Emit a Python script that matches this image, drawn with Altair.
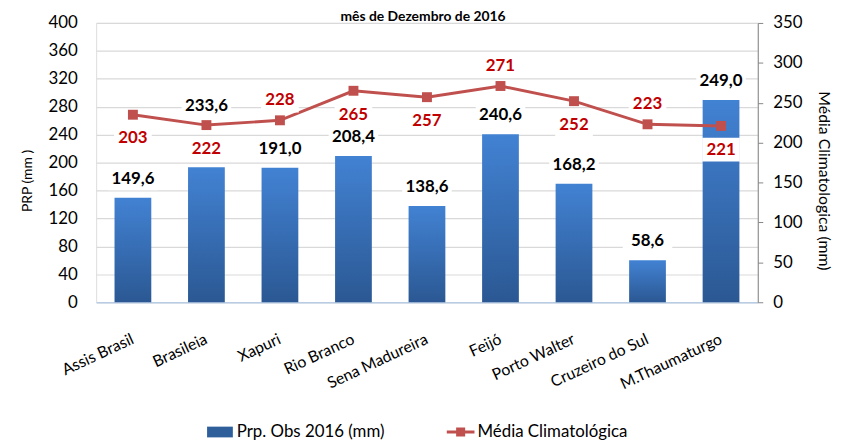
import altair as alt
import pandas as pd

# ---------------- data ----------------
title_text = "mês de Dezembro  de  2016"
categories = ["Assis Brasil", "Brasileia", "Xapuri", "Rio Branco", "Sena Madureira",
              "Feijó", "Porto Walter", "Cruzeiro do Sul", "M.Thaumaturgo"]
# bar heights as drawn (left axis, mm)
obs_bar_values = [149.6, 193.5, 192.5, 209.5, 138.0, 240.7, 169.8, 60.0, 289.8]
# bar data labels as printed
obs_labels = [149.6, 233.6, 191.0, 208.4, 138.6, 240.6, 168.2, 58.6, 249.0]
# climatological mean as drawn (right axis, mm)
clim_values = [235, 222, 228, 265, 257, 271, 252, 223, 221]
# climatological labels as printed
clim_labels = [203, 222, 228, 265, 257, 271, 252, 223, 221]

left_ticks = list(range(0, 401, 40))
right_ticks = list(range(0, 351, 50))

# label placement groups
clim_labels_above = ["Xapuri", "Feijó", "Cruzeiro do Sul"]
obs_label_over_line = ["Brasileia"]

series_bar = "Prp. Obs 2016 (mm)"
series_line = "Média Climatológica"

df = pd.DataFrame({
    "cat": categories,
    "obs": obs_bar_values,
    "obs_txt": [f"{v:.1f}".replace(".", ",") for v in obs_labels],
    "clim": clim_values,
    "clim_txt": [str(v) for v in clim_labels],
})
df["clim_above"] = df["cat"].isin(clim_labels_above)
df["obs_over_line"] = df["cat"].isin(obs_label_over_line)

FONT = "Lato"
BAR_TOP = "#4282d3"
BAR_BOTTOM = "#2b5893"
RED = "#c0504d"
LABEL_RED = "#c00000"

x_enc = alt.X(
    "cat:N", sort=categories,
    scale=alt.Scale(paddingInner=0.5, paddingOuter=0.25),
    axis=alt.Axis(title=None, labelAngle=-25, labelAlign="right", labelBaseline="middle",
                  labelPadding=36, labelFont=FONT, labelFontSize=16, labelColor="black",
                  ticks=False, domain=True, domainColor="#b8cce4", domainWidth=1.5,
                  grid=False, labelOverlap=False),
)

y_left_scale = alt.Scale(domain=[0, 400], nice=False)
y_right_scale = alt.Scale(domain=[0, 350], nice=False)

left_axis = alt.Axis(values=left_ticks, grid=True, gridColor="#d9d9d9", gridWidth=1.2,
                     domain=False, ticks=False, labelFont=FONT, labelFontSize=17,
                     labelColor="black", labelPadding=19, labelOverlap=False,
                     title="PRP (mm )", titleFont=FONT, titleFontSize=14,
                     titleFontWeight="normal", titleColor="black",
                     titlePadding=14, titleY=159)

base = alt.Chart(df)

bars = base.mark_bar(
    color=alt.Gradient(
        gradient="linear",
        stops=[alt.GradientStop(color=BAR_TOP, offset=0),
               alt.GradientStop(color=BAR_BOTTOM, offset=1)],
        x1=0, x2=0, y1=0, y2=1,
    )
).encode(
    x=x_enc,
    y=alt.Y("obs:Q", scale=y_left_scale, axis=left_axis),
)

obs_lab_base = base.transform_calculate(
    lab_y="datum.obs_over_line ? datum.clim * 400 / 350 : datum.obs"
)
obs_boxes = obs_lab_base.mark_point(
    shape="M-2.5,-1.15H2.5V1.15H-2.5Z", size=400, filled=True, color="white",
    opacity=1, yOffset=-19,
).encode(x=alt.X("cat:N", sort=categories),
         y=alt.Y("lab_y:Q", scale=y_left_scale, axis=left_axis))
obs_text = obs_lab_base.mark_text(
    font=FONT, fontSize=17, fontWeight="bold", color="black", dy=-19, baseline="middle"
).encode(x=alt.X("cat:N", sort=categories),
         y=alt.Y("lab_y:Q", scale=y_left_scale, axis=left_axis),
         text="obs_txt:N")

# chart title drawn as a text mark just above the plot area
title_mark = alt.Chart(pd.DataFrame({"t": [title_text]})).mark_text(
    font=FONT, fontSize=14, fontWeight="bold", color="black",
    baseline="alphabetic", align="center",
).encode(x=alt.value(330), y=alt.value(-1.5), text="t:N")

left = alt.layer(bars, obs_boxes, obs_text, title_mark)

right_axis = alt.Axis(orient="right", values=right_ticks, grid=False,
                      domain=True, domainColor="#868686", ticks=True,
                      tickColor="#868686", tickSize=5, labelFont=FONT,
                      labelFontSize=17, labelColor="black", labelPadding=10,
                      labelOverlap=False,
                      title="Média Climatologica (mm)", titleAngle=90,
                      titleFont=FONT, titleFontSize=16, titleFontWeight="normal",
                      titleColor="black", titlePadding=14, titleY=159)
y_right = alt.Y("clim:Q", scale=y_right_scale, axis=right_axis)

line = base.mark_line(color=RED, strokeWidth=3).encode(
    x=alt.X("cat:N", sort=categories), y=y_right)
points = base.mark_point(shape="square", filled=True, color=RED, opacity=1, size=100).encode(
    x=alt.X("cat:N", sort=categories), y=y_right)

above = base.transform_filter("datum.clim_above")
below = base.transform_filter("!datum.clim_above")

box_shape = "M-1.9,-1.2H1.9V1.2H-1.9Z"
clim_box_above = above.mark_point(shape=box_shape, size=400, filled=True, color="white",
                                  opacity=1, yOffset=-20).encode(
    x=alt.X("cat:N", sort=categories), y=y_right)
clim_box_below = below.mark_point(shape=box_shape, size=400, filled=True, color="white",
                                  opacity=1, yOffset=24).encode(
    x=alt.X("cat:N", sort=categories), y=y_right)
clim_txt_above = above.mark_text(font=FONT, fontSize=17, fontWeight="bold", color=LABEL_RED,
                                 dy=-20, baseline="middle").encode(
    x=alt.X("cat:N", sort=categories), y=y_right, text="clim_txt:N")
clim_txt_below = below.mark_text(font=FONT, fontSize=17, fontWeight="bold", color=LABEL_RED,
                                 dy=24, baseline="middle").encode(
    x=alt.X("cat:N", sort=categories), y=y_right, text="clim_txt:N")

# legend carrier (no rows drawn; legend built from explicit scale domains)
leg = alt.Legend(orient="none", legendX=114, legendY=402, direction="horizontal",
                 title=None, labelFont=FONT, labelFontSize=17, labelColor="black",
                 symbolSize=470, symbolStrokeWidth=0, labelOffset=6, columnPadding=62)
legend_layer = base.transform_filter("false").mark_point(filled=True, opacity=1).encode(
    color=alt.Color("s:N", scale=alt.Scale(domain=[series_bar, series_line],
                                           range=["#2e5f9b", RED]), legend=leg),
    shape=alt.Shape("s:N", scale=alt.Scale(
        domain=[series_bar, series_line],
        range=["M-1.2,-0.5H1.2V0.5H-1.2Z",
               "M-1.29,-0.14H-0.42V-0.42H0.42V-0.14H1.29V0.14H0.42V0.42H-0.42V0.14H-1.29Z"]),
        legend=leg),
)

right = alt.layer(line, points, clim_box_above, clim_box_below,
                  clim_txt_above, clim_txt_below, legend_layer)

chart = alt.layer(left, right).resolve_scale(y="independent").properties(
    width=668, height=282,
    autosize=alt.AutoSizeParams(type="none"),
    padding={"left": 89, "top": 13, "right": 82, "bottom": 140},
).configure_view(stroke=None).configure(background="white")

chart.save("out.html", embed_options={"renderer": "svg", "actions": False})
